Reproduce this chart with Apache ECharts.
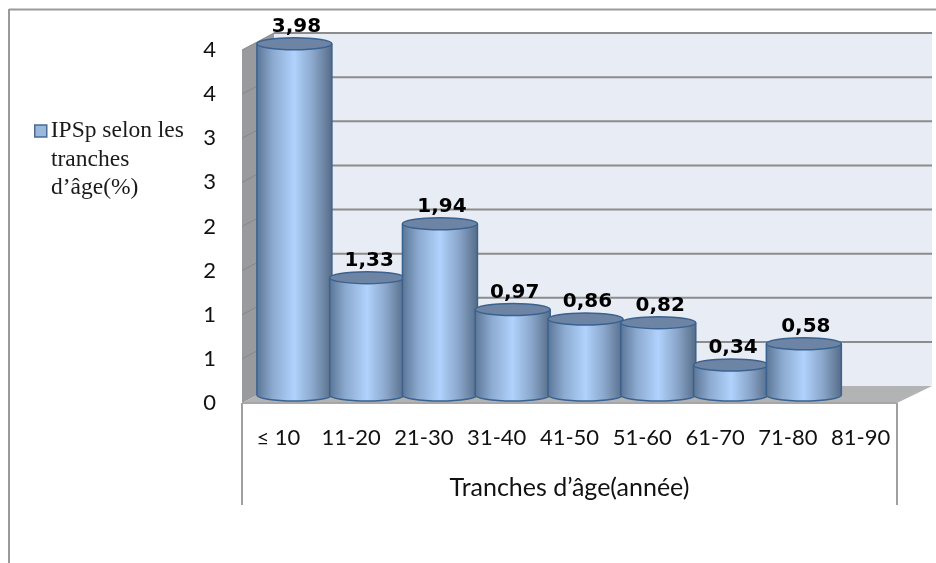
<!DOCTYPE html>
<html>
<head>
<meta charset="utf-8">
<style>html,body{margin:0;padding:0;background:#fff}#chart{width:936px;height:563px}</style>
<script src="https://cdn.jsdelivr.net/npm/echarts@6/dist/echarts.min.js"></script>
</head>
<body>
<div id="chart"></div>
<script>
const categories = ['≤ 10', '11-20', '21-30', '31-40', '41-50', '51-60', '61-70', '71-80', '81-90'];
const values = [3.98, 1.33, 1.94, 0.97, 0.86, 0.82, 0.34, 0.58];
const yTicks = [0, 0.5, 1, 1.5, 2, 2.5, 3, 3.5, 4];
const yTickLabels = ['0', '1', '1', '2', '2', '3', '3', '4', '4'];
const legendLines = ['IPSp selon les', 'tranches', 'd’âge(%)'];
const xAxisTitle = 'Tranches d’âge(année)';

// Pseudo-3D projection: the axes sit on the front plane, the walls recede by these offsets.
const DEPTH_LEFT = 32, DEPTH_RIGHT = 35, DEPTH_Y = 17;
const BAR_SHIFT_X = 16, BAR_SHIFT_Y = 8, BAR_W = 75, CAP_RY = 6;
const LABEL_FONT = 'Lato, "Open Sans", sans-serif';

const sideGradient = {
  type: 'linear', x: 0, y: 0, x2: 1, y2: 0,
  colorStops: [
    { offset: 0, color: '#5b7696' },
    { offset: 0.22, color: '#8dabd1' },
    { offset: 0.5, color: '#b0d2fc' },
    { offset: 0.75, color: '#8aa6ca' },
    { offset: 1, color: '#566d89' }
  ]
};

// Back wall, side wall, floor and gridlines, all projected from the value axis.
function renderWalls(params, api) {
  const cs = params.coordSys;
  const left = cs.x, right = cs.x + cs.width, bottom = cs.y + cs.height;
  const backL = left + DEPTH_LEFT, backR = right + DEPTH_RIGHT;
  const line = (x1, y1, x2, y2, color, w) => ({
    type: 'line', shape: { x1, y1, x2, y2 }, style: { stroke: color, lineWidth: w }
  });
  const children = [
    { type: 'rect', shape: { x: backL, y: cs.y - DEPTH_Y, width: backR - backL, height: cs.height },
      style: { fill: '#e8ecf5' } },
    { type: 'polygon', shape: { points: [[left, cs.y], [backL, cs.y - DEPTH_Y], [backL, bottom - DEPTH_Y], [left, bottom]] },
      style: { fill: '#989a9e' } },
    { type: 'polygon', shape: { points: [[left, bottom], [backL, bottom - DEPTH_Y], [backR, bottom - DEPTH_Y], [right, bottom]] },
      style: { fill: '#b1b3b5' } }
  ];
  yTicks.forEach(t => {
    const y = api.coord([0, t])[1];
    if (t > 0) children.push(line(backL, y - DEPTH_Y, backR, y - DEPTH_Y, '#8c8c8c', 2));
    if (t > 0) children.push(line(left, y, backL, y - DEPTH_Y, '#85878a', 1));
  });
  children.push(line(left, bottom, left, bottom + 102, '#a0a0a0', 2));
  children.push(line(right, bottom, right, bottom + 102, '#a0a0a0', 2));
  children.push(line(left, bottom, right, bottom, '#a6a6a6', 2));
  return { type: 'group', children };
}

// One cylinder per value: base ellipse, side, edges, cap and value text.
function renderCylinder(params, api) {
  const i = api.value(0), v = api.value(1);
  const top = api.coord([i, v]);
  const base = api.coord([i, 0]);
  const cx = top[0] + BAR_SHIFT_X;
  const yTop = top[1] - BAR_SHIFT_Y, yBase = base[1] - BAR_SHIFT_Y;
  const rx = BAR_W / 2;
  const stroke = '#3a6290';
  return {
    type: 'group',
    children: [
      { type: 'ellipse', shape: { cx, cy: yBase, rx, ry: CAP_RY },
        style: { fill: sideGradient, stroke, lineWidth: 1.5 } },
      { type: 'rect', shape: { x: cx - rx, y: yTop, width: BAR_W, height: yBase - yTop },
        style: { fill: sideGradient } },
      { type: 'line', shape: { x1: cx - rx, y1: yTop, x2: cx - rx, y2: yBase }, style: { stroke, lineWidth: 1.5 } },
      { type: 'line', shape: { x1: cx + rx, y1: yTop, x2: cx + rx, y2: yBase }, style: { stroke, lineWidth: 1.5 } },
      { type: 'ellipse', shape: { cx, cy: yTop, rx, ry: CAP_RY },
        style: { fill: '#6d84a4', stroke, lineWidth: 1.5 } },
      { type: 'text', style: {
          x: cx + 2, y: yTop - 17,
          text: String(v.toFixed(2)).replace('.', ','),
          fill: '#000', align: 'center', verticalAlign: 'middle',
          font: 'bold 20px "DejaVu Sans", sans-serif'
        } }
    ]
  };
}

const chart = echarts.init(document.getElementById('chart'), null, { renderer: 'canvas' });
const seriesName = legendLines.join(' ');
chart.setOption({
  animation: false,
  backgroundColor: '#fff',
  grid: { left: 242, right: 39, top: 50, bottom: 160 },
  legend: {
    left: 34, top: 119, icon: 'rect', itemWidth: 12, itemHeight: 12, itemGap: 0, padding: 0,
    data: [{ name: seriesName, itemStyle: { color: '#9ab7dc', borderColor: '#4a6b94', borderWidth: 1.5 } }],
    formatter: () => legendLines[0],
    textStyle: { fontFamily: '"Liberation Serif", serif', fontSize: 23.5, color: '#1a1a1a', padding: [0, 0, 0, -1] }
  },
  graphic: [
    { type: 'line', silent: true, shape: { x1: 9, y1: 9.5, x2: 936, y2: 9.5 }, style: { stroke: '#9a9a9a', lineWidth: 2 } },
    { type: 'line', silent: true, shape: { x1: 9, y1: 9, x2: 9, y2: 563 }, style: { stroke: '#9a9a9a', lineWidth: 2 } },
    { type: 'text', left: 51, top: 146, silent: true,
      style: { text: legendLines.slice(1).join('\n'), font: '23.5px "Liberation Serif", serif', lineHeight: 28, fill: '#1a1a1a' } }
  ],
  xAxis: {
    type: 'category',
    data: categories,
    axisLine: { show: false },
    axisTick: { show: false },
    axisLabel: { fontFamily: LABEL_FONT, fontSize: 22, color: '#111', margin: 24, interval: 0 },
    name: xAxisTitle,
    nameLocation: 'middle',
    nameGap: 72,
    nameTextStyle: { fontFamily: LABEL_FONT, fontSize: 25, color: '#111' }
  },
  yAxis: {
    type: 'value',
    min: 0, max: 4, interval: 0.5,
    splitLine: { show: false },
    axisLine: { show: false },
    axisTick: { show: false },
    axisLabel: {
      fontFamily: LABEL_FONT, fontSize: 22, color: '#111', margin: 26, padding: [4, 0, 0, 0],
      formatter: (v) => yTickLabels[yTicks.indexOf(v)]
    }
  },
  series: [
    { type: 'custom', silent: true, renderItem: renderWalls, data: [[0, 0]], z: 1 },
    { type: 'custom', name: seriesName, silent: true, renderItem: renderCylinder, z: 2,
      itemStyle: { color: '#9ab7dc' },
      encode: { x: 0, y: 1 },
      data: values.map((v, i) => [i, v]) }
  ]
});
</script>
</body>
</html>
